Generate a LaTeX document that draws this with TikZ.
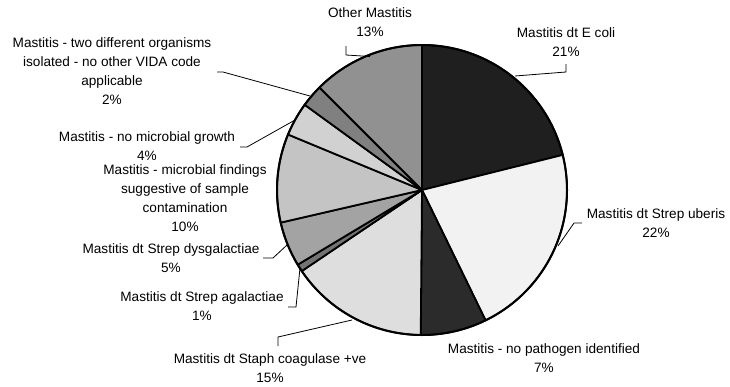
\documentclass[tikz,border=0pt]{standalone}
\usepackage{fontspec}
\setmainfont{Liberation Sans}
\begin{document}
\begin{tikzpicture}[x=1pt,y=-1pt,
  slice/.style={draw=black,line width=1.8pt,line join=round},
  leader/.style={draw=black,line width=0.8pt},
  lbl/.style={align=center,inner sep=0pt,font=\fontsize{13.6}{19}\selectfont}]
\useasboundingbox (0,0) rectangle (730,386);
\definecolor{cEcoli}{gray}{0.12}
\definecolor{cUberis}{gray}{0.95}
\definecolor{cNoPath}{gray}{0.17}
\definecolor{cStaph}{gray}{0.87}
\definecolor{cAgal}{gray}{0.45}
\definecolor{cDysg}{gray}{0.64}
\definecolor{cContam}{gray}{0.77}
\definecolor{cNoGrowth}{gray}{0.82}
\definecolor{cTwoOrg}{gray}{0.5}
\definecolor{cOther}{gray}{0.57}
\coordinate (c) at (422,190);
% slices: angles a = theta - 90 (clockwise from top, y axis flipped)
\foreach \a/\b/\col in {-90/-14/cEcoli,-14/64/cUberis,64/90.5/cNoPath,90.5/146/cStaph,146/149/cAgal,149/167/cDysg,167/202.5/cContam,202.5/216/cNoGrowth,216/225/cTwoOrg,225/270/cOther}
  \filldraw[slice,fill=\col] (c) -- ++(\a:145) arc[start angle=\a,end angle=\b,radius=145] -- cycle;
\draw[line width=2pt] (c) circle[radius=145];
% labels
\node[lbl] (other) at (370,22) {Other Mastitis\\13\%};
\node[lbl] (ecoli) at (566,42) {Mastitis dt E coli\\21\%};
\node[lbl] (uberis) at (656,223) {Mastitis dt Strep uberis\\22\%};
\node[lbl] (nopath) at (544,358) {Mastitis - no pathogen identified\\7\%};
\node[lbl] (staph) at (270,368) {Mastitis dt Staph coagulase +ve\\15\%};
\node[lbl] (agal) at (202,306.5) {Mastitis dt Strep agalactiae\\1\%};
\node[lbl] (dysg) at (171,258) {Mastitis dt Strep dysgalactiae\\5\%};
\node[lbl] (contam) at (185,198.5) {Mastitis - microbial findings\\suggestive of sample\\contamination\\10\%};
\node[lbl] (nogrowth) at (147,146) {Mastitis - no microbial growth\\4\%};
\node[lbl] (twoorg) at (112,71.5) {Mastitis - two different organisms\\isolated - no other VIDA code\\applicable\\2\%};
% leader points
\coordinate (o1) at (346,46); \coordinate (o2) at (346,55); \coordinate (o3) at (370,56.5);
\coordinate (e1) at (566,64); \coordinate (e2) at (566,72); \coordinate (e3) at (515,76);
\coordinate (u1) at (582,223); \coordinate (u2) at (574,223); \coordinate (u3) at (558,246);
\coordinate (s1) at (278,346); \coordinate (s2) at (278,337); \coordinate (s3) at (352,320);
\coordinate (a1) at (288,307); \coordinate (a2) at (296,307); \coordinate (a3) at (300,268);
\coordinate (d1) at (263,258); \coordinate (d2) at (273,258); \coordinate (d3) at (287,245);
\coordinate (g1) at (240,147); \coordinate (g2) at (247,147); \coordinate (g3) at (295,120);
\coordinate (t1) at (217,72); \coordinate (t2) at (223,72); \coordinate (t3) at (310,96);
\draw[leader] (o1) -- (o2) -- (o3);
\draw[leader] (e1) -- (e2) -- (e3);
\draw[leader] (u1) -- (u2) -- (u3);
\draw[leader] (s1) -- (s2) -- (s3);
\draw[leader] (a1) -- (a2) -- (a3);
\draw[leader] (d1) -- (d2) -- (d3);
\draw[leader] (g1) -- (g2) -- (g3);
\draw[leader] (t1) -- (t2) -- (t3);
\end{tikzpicture}
\end{document}
